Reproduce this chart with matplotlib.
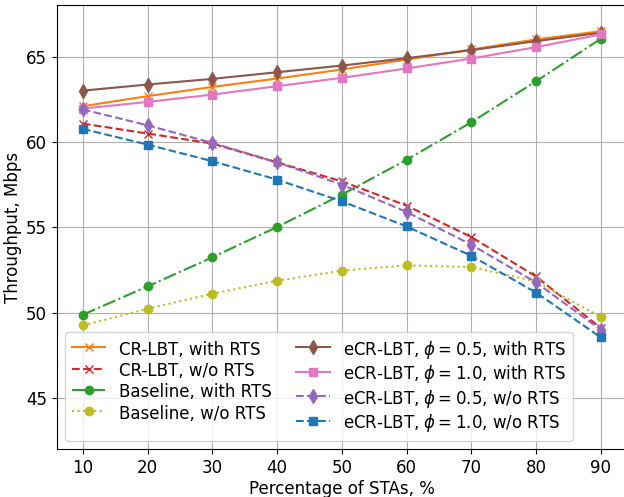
import numpy as np
import matplotlib.pyplot as plt

# percentage of STAs
sta = [10, 20, 30, 40, 50, 60, 70, 80, 90]

# throughput, Mbps
cr_rts = [62.09, 62.68, 63.22, 63.71, 64.24, 64.82, 65.41, 66.0, 66.48]
cr_norts = [61.07, 60.49, 59.9, 58.8, 57.69, 56.27, 54.43, 52.12, 49.1]
base_rts = [49.88, 51.54, 53.24, 55.02, 56.91, 58.95, 61.15, 63.55, 66.04]
base_norts = [49.25, 50.23, 51.11, 51.87, 52.46, 52.77, 52.67, 51.83, 49.74]
ecr05_rts = [63.0, 63.36, 63.69, 64.08, 64.47, 64.9, 65.37, 65.9, 66.39]
ecr10_rts = [61.95, 62.34, 62.77, 63.26, 63.75, 64.3, 64.88, 65.55, 66.29]
ecr05_norts = [61.9, 60.97, 59.94, 58.8, 57.5, 55.9, 53.98, 51.77, 49.0]
ecr10_norts = [60.76, 59.84, 58.87, 57.79, 56.52, 55.05, 53.33, 51.18, 48.55]

plt.rcParams['font.size'] = 12
fig = plt.figure(figsize=(6.24, 4.97), dpi=100)
ax = fig.add_axes([0.0913, 0.096, 0.913, 0.8934])

ax.plot(sta, cr_rts, color='C1', ls='-', marker='x', label='CR-LBT, with RTS')
ax.plot(sta, cr_norts, color='C3', ls='--', marker='x', label='CR-LBT, w/o RTS')
ax.plot(sta, base_rts, color='C2', ls='-.', marker='o', label='Baseline, with RTS')
ax.plot(sta, base_norts, color='C8', ls=':', marker='o', label='Baseline, w/o RTS')
ax.plot(sta, ecr05_rts, color='C5', ls='-', marker='d', ms=7, label=r'eCR-LBT, $\phi=0.5$, with RTS')
ax.plot(sta, ecr10_rts, color='C6', ls='-', marker='s', label=r'eCR-LBT, $\phi=1.0$, with RTS')
ax.plot(sta, ecr05_norts, color='C4', ls='--', marker='d', ms=7, label=r'eCR-LBT, $\phi=0.5$, w/o RTS')
ax.plot(sta, ecr10_norts, color='C0', ls='--', marker='s', label=r'eCR-LBT, $\phi=1.0$, w/o RTS')

ax.set_xlim(6, 94)
ax.set_ylim(42, 68)
ax.set_xticks(sta)
ax.set_yticks([45, 50, 55, 60, 65])
ax.set_xlabel('Percentage of STAs, %', labelpad=2.5)
ax.set_ylabel('Throughput, Mbps', labelpad=3)
ax.grid(True)
# taller handle boxes keep both legend columns on the same row pitch
ax.legend(ncol=2, loc='lower left', columnspacing=1.5, handleheight=1.32,
          labelspacing=0.15)

fig.savefig('out.png', dpi=100)
